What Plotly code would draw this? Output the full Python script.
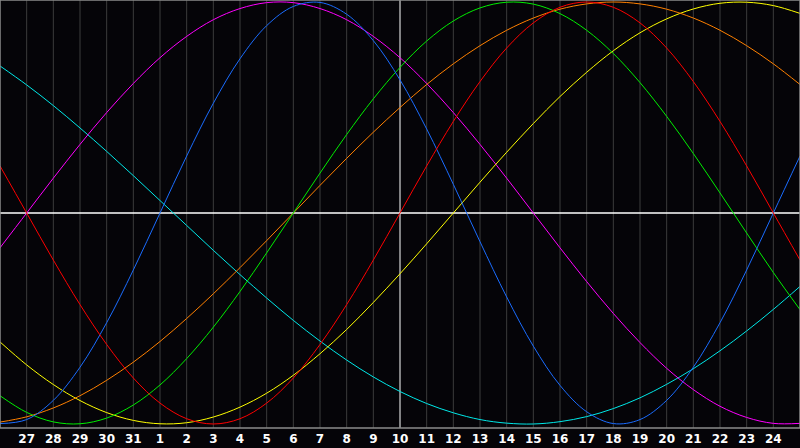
import plotly.graph_objects as go

# day labels along the bottom (first and last points sit on the plot edges)
days = [26, 27, 28, 29, 30, 31] + list(range(1, 26))
x = list(range(len(days)))
center_day = 15  # index of "10", today

# cycle values in percent, one per day
red = [22.3, 0.0, -22.3, -43.4, -62.3, -78.2, -90.1, -97.5, -100.0, -97.5, -90.1, -78.2, -62.3, -43.4, -22.3,
       0.0, 22.3, 43.4, 62.3, 78.2, 90.1, 97.5, 100.0, 97.5, 90.1, 78.2, 62.3, 43.4, 22.3, 0.0, -22.3]
blue = [-99.8, -97.9, -88.8, -73.1, -52.0, -27.0, 0.0, 27.0, 52.0, 73.1, 88.8, 97.9, 99.8, 94.2, 81.7, 63.1,
        39.8, 13.6, -13.6, -39.8, -63.1, -81.7, -94.2, -99.8, -97.9, -88.8, -73.1, -52.0, -27.0, 0.0, 27.0]
green = [-86.6, -94.5, -99.0, -99.9, -97.2, -91.0, -81.5, -69.0, -54.1, -37.2, -18.9, 0.0, 18.9, 37.2, 54.1,
         69.0, 81.5, 91.0, 97.2, 99.9, 99.0, 94.5, 86.6, 75.6, 61.8, 45.8, 28.2, 9.5, -9.5, -28.2, -45.8]
cyan = [69.7, 60.7, 50.9, 40.3, 29.2, 17.7, 5.9, -5.9, -17.7, -29.2, -40.3, -50.9, -60.7, -69.7, -77.7, -84.6,
        -90.3, -94.7, -97.9, -99.6, -100.0, -98.9, -96.5, -92.7, -87.6, -81.2, -73.8, -65.3, -55.9, -45.7, -34.8]
magenta = [-16.5, 0.0, 16.5, 32.5, 47.6, 61.4, 73.6, 83.7, 91.6, 96.9, 99.7, 99.7, 96.9, 91.6, 83.7, 73.6,
           61.4, 47.6, 32.5, 16.5, 0.0, -16.5, -32.5, -47.6, -61.4, -73.6, -83.7, -91.6, -96.9, -99.7, -99.7]
orange = [-99.1, -96.6, -92.4, -86.6, -79.3, -70.7, -60.9, -50.0, -38.3, -25.9, -13.1, 0.0, 13.1, 25.9, 38.3,
          50.0, 60.9, 70.7, 79.3, 86.6, 92.4, 96.6, 99.1, 100.0, 99.1, 96.6, 92.4, 86.6, 79.3, 70.7, 60.9]
yellow = [-61.1, -72.0, -81.3, -88.9, -94.6, -98.3, -99.9, -99.4, -96.7, -92.0, -85.4, -76.9, -66.7, -55.2,
          -42.4, -28.8, -14.6, 0.0, 14.6, 28.8, 42.4, 55.2, 66.7, 76.9, 85.4, 92.0, 96.7, 99.4, 99.9, 98.3, 94.6]

curves = [
    (cyan, '#00e8e8'),
    (magenta, '#ff00ff'),
    (yellow, '#ffff00'),
    (orange, '#ff8000'),
    (green, '#00ee00'),
    (blue, '#1a6cff'),
    (red, '#ff0000'),
]

fig = go.Figure()
for vals, col in curves:
    fig.add_trace(go.Scatter(x=x, y=vals, mode='lines', hoverinfo='skip',
                             line=dict(color=col, width=1, shape='spline', smoothing=1)))

# day grid lines, white line for today
shapes = []
for i in x[1:-1]:
    shapes.append(dict(type='line', xref='x', yref='paper', x0=i, x1=i, y0=0, y1=1, layer='below',
                       line=dict(color='white' if i == center_day else '#3c3c3c', width=1)))
shapes.append(dict(type='line', xref='paper', yref='y', x0=0, x1=1, y0=0, y1=0, layer='below',
                   line=dict(color='white', width=1.5)))
shapes.append(dict(type='rect', xref='paper', yref='paper', x0=0, x1=1, y0=0, y1=1,
                   line=dict(color='#8a8a8a', width=1.5)))

fig.update_layout(width=800, height=448, margin=dict(l=0, r=0, t=0, b=20),
                  plot_bgcolor='#050408', paper_bgcolor='#050408',
                  showlegend=False, shapes=shapes)
fig.update_yaxes(range=[-101.9, 100.95], showgrid=False, zeroline=False,
                 showticklabels=False, fixedrange=True)
fig.update_xaxes(range=[0, 30], showgrid=False, zeroline=False,
                 tickvals=x[1:-1], ticktext=[str(d) for d in days[1:-1]],
                 ticks='', ticklabelstandoff=2,
                 tickfont=dict(family='DejaVu Sans', size=12, color='white', weight='bold'))

# page has a default 8px body margin; drop it so the chart fills the window
fig.write_html("out.html", config={'displayModeBar': False},
               post_script="document.body.style.margin='0';document.body.style.overflow='hidden';"
                           "document.body.style.background='#050408';")
